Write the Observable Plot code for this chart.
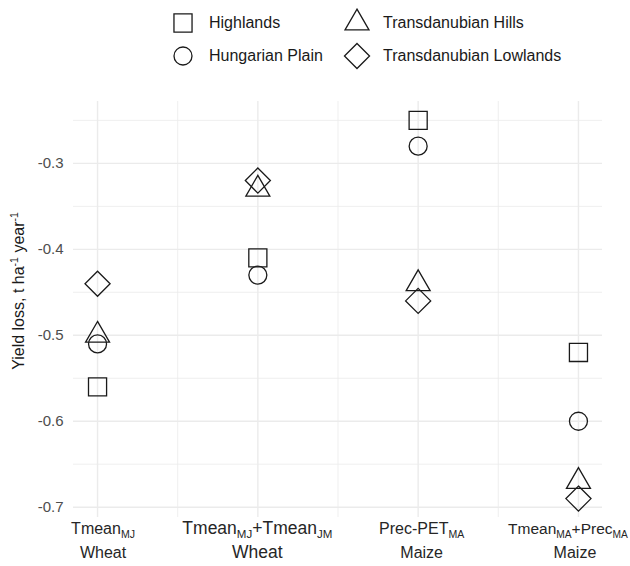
<!DOCTYPE html>
<html>
<head>
<meta charset="utf-8">
<script src="https://cdn.jsdelivr.net/npm/d3@7"></script>
<script src="https://cdn.jsdelivr.net/npm/@observablehq/plot@0.6"></script>
<style>
  body { margin: 0; background: #fff; font-family: "Liberation Sans", Arial, sans-serif; }
  #legend { position: relative; width: 630px; height: 80px; }
  #legend .item { position: absolute; display: flex; align-items: center; height: 30px; font-size: 16px; color: #1a1a1a; white-space: nowrap; }
  #legend .item svg { flex: none; }
  #legend .item span { margin-left: 11px; }
</style>
</head>
<body>
<div id="legend"></div>
<div id="chart"></div>
<script>
// Predictor (with subscripts written as _{...}) and crop shown under each column
const predictors = ["Tmean_{MJ}", "Tmean_{MJ}+Tmean_{JM}", "Prec-PET_{MA}", "Tmean_{MA}+Prec_{MA}"];
const crops = ["Wheat", "Wheat", "Maize", "Maize"];

// Regions and their yield loss (t ha-1 year-1) for each predictor
const regions = ["Highlands", "Hungarian Plain", "Transdanubian Hills", "Transdanubian Lowlands"];
const highlands = [-0.56, -0.41, -0.25, -0.52];
const hungarianPlain = [-0.51, -0.43, -0.28, -0.60];
const transdanubianHills = [-0.50, -0.33, -0.44, -0.67];
const transdanubianLowlands = [-0.44, -0.32, -0.46, -0.69];

const yTicks = [-0.7, -0.6, -0.5, -0.4, -0.3];

// Open symbols per region (Plot symbol name + radius)
const regionSymbols = [
  { name: "square", type: d3.symbolSquare, r: 10.2 },
  { name: "circle", type: d3.symbolCircle, r: 9 },
  { name: "triangle", type: d3.symbolTriangle, r: 8.9 },
  { name: "diamond2", type: d3.symbolDiamond2, r: 11.3 }
];

const series = [highlands, hungarianPlain, transdanubianHills, transdanubianLowlands];
const rows = regions.flatMap((region, k) =>
  series[k].map((value, i) => ({ region, pos: i + 1, value })));

// Continuous y extent padded by 5% on both sides
const [lo, hi] = d3.extent(rows, d => d.value);
const pad = (hi - lo) * 0.05;
const minorY = yTicks.map(t => +(t + 0.05).toFixed(2));

const ink = "#1a1a1a";
const grid = "#ebebeb";

// Legend: two columns of symbol + name
const legend = d3.select("#legend");
const colX = [183, 357], rowY = [23, 56];
regions.forEach((name, k) => {
  const col = Math.floor(k / 2), row = k % 2;
  const item = legend.append("div").attr("class", "item")
    .style("left", (colX[col] - 15) + "px")
    .style("top", (rowY[row] - 15) + "px");
  const s = regionSymbols[k];
  item.append("svg").attr("width", 30).attr("height", 30)
    .append("path")
    .attr("transform", "translate(15,15)")
    .attr("d", d3.symbol(s.type, Math.PI * s.r * s.r)())
    .attr("fill", "none").attr("stroke", ink).attr("stroke-width", 1.3);
  item.append("span").text(name);
});

const plot = Plot.plot({
  width: 630,
  height: 486,
  marginLeft: 73,
  marginRight: 28,
  marginTop: 21,
  marginBottom: 49,
  style: { fontFamily: "Liberation Sans, Arial, sans-serif", background: "#fff", overflow: "visible" },
  x: { type: "linear", domain: [0.85, 4.15], axis: null },
  y: { domain: [lo - pad, hi + pad] },
  marks: [
    Plot.ruleX([1.5, 2.5, 3.5], { stroke: grid, strokeWidth: 0.8 }),
    Plot.ruleY(minorY, { stroke: grid, strokeWidth: 0.8 }),
    Plot.ruleX([1, 2, 3, 4], { stroke: grid, strokeWidth: 1.4 }),
    Plot.ruleY(yTicks, { stroke: grid, strokeWidth: 1.4 }),
    Plot.axisY(yTicks, {
      tickSize: 0, tickPadding: 10, tickFormat: d => d.toFixed(1),
      fontSize: 15, fill: "#4d4d4d", label: null
    }),
    ...regions.map((region, k) => Plot.dot(rows.filter(d => d.region === region), {
      x: "pos", y: "value",
      symbol: regionSymbols[k].name, r: regionSymbols[k].r,
      stroke: ink, strokeWidth: 1.3, fill: "none"
    }))
  ]
});

document.getElementById("chart").appendChild(plot);

// Write text with _{...} subscripts / ^{...} superscripts as tspans
function richText(sel, str, small, shift) {
  const parts = str.split(/([_^]\{[^}]*\})/).filter(p => p.length);
  let offset = 0;
  parts.forEach(p => {
    const m = p.match(/^([_^])\{([^}]*)\}$/);
    const t = sel.append("tspan");
    if (m) {
      const target = m[1] === "_" ? shift : -shift;
      t.attr("dy", target - offset).attr("font-size", small).text(m[2]);
      offset = target;
    } else {
      t.attr("dy", -offset).text(p);
      offset = 0;
    }
  });
}

const svg = d3.select(plot);
const xs = plot.scale("x");
// Column label offsets/sizes; the last predictor is nudged left so it stays inside the page
const labelDx = [6, 0, 4, -10];
const labelSize = [16, 17.5, 16, 15.5];
const cropDx = [6, 0, 4, -3];
const cropSize = [16, 17.5, 16, 16];
predictors.forEach((p, i) => {
  const fs = labelSize[i];
  const t1 = svg.append("text")
    .attr("x", xs.apply(i + 1) + labelDx[i]).attr("y", 454)
    .attr("text-anchor", "middle").attr("font-size", fs).attr("fill", "#262626");
  richText(t1, p, fs * 0.66, 4);
  svg.append("text")
    .attr("x", xs.apply(i + 1) + cropDx[i]).attr("y", 478)
    .attr("text-anchor", "middle").attr("font-size", cropSize[i]).attr("fill", "#262626")
    .text(crops[i]);
});

// Y axis title
const yt = svg.append("text")
  .attr("transform", "translate(24,211) rotate(-90)")
  .attr("text-anchor", "middle").attr("font-size", 16).attr("fill", ink);
richText(yt, "Yield loss, t ha^{-1} year^{-1}", 10.5, 6);
</script>
</body>
</html>
